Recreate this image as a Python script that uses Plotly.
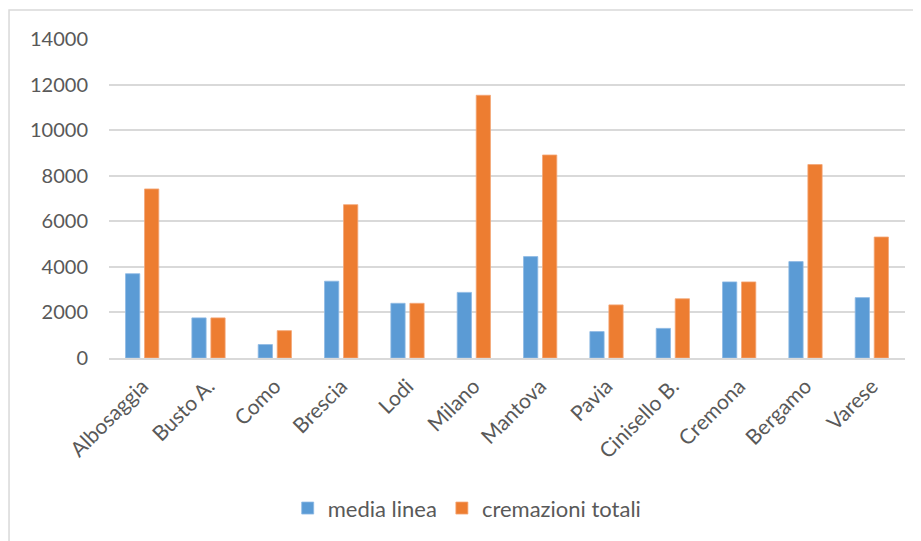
import plotly.graph_objects as go

categories = ["Albosaggia", "Busto A.", "Como", "Brescia", "Lodi", "Milano",
              "Mantova", "Pavia", "Cinisello B.", "Cremona", "Bergamo", "Varese"]
media_linea = [3700, 1760, 590, 3370, 2400, 2880, 4450, 1160, 1300, 3340, 4230, 2650]
cremazioni_totali = [7420, 1760, 1200, 6730, 2400, 11530, 8910, 2330, 2600, 3340, 8490, 5310]
y_ticks = [0, 2000, 4000, 6000, 8000, 10000, 12000, 14000]

FONT = "Lato"
GRAY = "#595959"

fig = go.Figure()
fig.add_trace(go.Bar(x=categories, y=media_linea, name="media linea",
                     marker=dict(color="#5B9BD5", line=dict(color="#8DB9E3", width=0.8))))
fig.add_trace(go.Bar(x=categories, y=cremazioni_totali, name="cremazioni totali",
                     marker=dict(color="#ED7D31", line=dict(color="#F4A676", width=0.8))))

# page body has an 8px margin; the figure is sized to fit the 921x541 window
fig.update_layout(
    width=913, height=533,
    margin=dict(l=101, r=16, t=31, b=183),
    paper_bgcolor="white", plot_bgcolor="white",
    barmode="group", bargap=0.427, bargroupgap=0.25,
    font=dict(family=FONT, color=GRAY),
    showlegend=True,
    legend=dict(orientation="h", x=0.45, xanchor="center", y=-0.471, yanchor="middle",
                font=dict(family=FONT, size=22, color=GRAY), traceorder="normal"),
    xaxis=dict(tickangle=-45, tickfont=dict(family=FONT, size=21, color=GRAY),
               showline=True, linecolor="#d9d9d9", linewidth=1.5, showgrid=False,
               ticks="", ticklabelstandoff=6),
    yaxis=dict(range=[0, 14000], tickvals=y_ticks, tickformat="d",
               tickfont=dict(family=FONT, size=20, color=GRAY),
               showgrid=True, gridcolor="#d9d9d9", gridwidth=1.5,
               zeroline=False, showline=False, ticks="", ticklabelstandoff=20),
    shapes=[dict(type="rect", xref="paper", yref="paper",
                 x0=-0.1256, x1=1.05, y0=-0.7, y1=1.0906,
                 line=dict(color="#d9d9d9", width=1.5), fillcolor="rgba(0,0,0,0)",
                 layer="below")],
)

fig.write_html("out.html")
